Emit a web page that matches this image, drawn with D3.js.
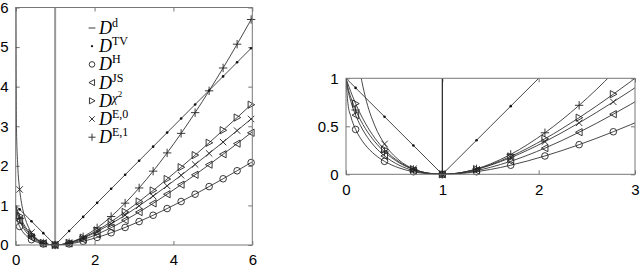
<!DOCTYPE html>
<html>
<head>
<meta charset="utf-8">
<script src="https://cdn.jsdelivr.net/npm/d3@7"></script>
<style>
  body { margin: 0; background: #fff; }
  svg { display: block; }
</style>
</head>
<body>
<svg id="chart" width="640" height="267"></svg>
<script>
// sample points along t (likelihood ratio), shared by all curves
const tGrid = [0, 0.02, 0.05, 0.1, 0.15, 0.2, 0.3, 0.4, 0.55, 0.7, 0.85, 1, 1.15, 1.355, 1.5, 1.71,
               2.065, 2.42, 2.775, 3.13, 3.485, 3.84, 4.195, 4.55, 4.905, 5.26, 5.615, 5.97, 6];
// where the markers sit
const markT = [0.1, 0.4, 0.7, 1, 1.355, 1.71, 2.065, 2.42, 2.775, 3.13, 3.485, 3.84, 4.195, 4.55,
               4.905, 5.26, 5.615, 5.97];

const valsTV  = [1, 0.98, 0.95, 0.9, 0.85, 0.8, 0.7, 0.6, 0.45, 0.3, 0.15, 0, 0.15, 0.355, 0.5, 0.71,
                 1.065, 1.42, 1.775, 2.13, 2.485, 2.84, 3.195, 3.55, 3.905, 4.26, 4.615, 4.97, 5];
const valsH   = [1, 0.7372, 0.6028, 0.4675, 0.3754, 0.3056, 0.2046, 0.1351, 0.0668, 0.0267, 0.0061, 0, 0.0052, 0.0269, 0.0505, 0.0947,
                 0.1910, 0.3087, 0.4433, 0.5916, 0.7514, 0.9208, 1.0987, 1.2839, 1.4755, 1.6731, 1.8758, 2.0833, 2.1010];
const valsJS  = [1, 0.8780, 0.7600, 0.6166, 0.5076, 0.4200, 0.2868, 0.1916, 0.0956, 0.0384, 0.0088, 0, 0.0076, 0.0388, 0.0726, 0.1358,
                 0.2726, 0.4385, 0.6265, 0.8319, 1.0515, 1.2828, 1.5239, 1.7734, 2.0301, 2.2931, 2.5616, 2.8350, 2.8583];
const valsChi = [1, 0.9416, 0.8595, 0.7364, 0.6283, 0.5333, 0.3769, 0.2571, 0.1306, 0.0529, 0.0122, 0, 0.0105, 0.0535, 0.1, 0.1860,
                 0.3701, 0.5896, 0.8346, 1.0985, 1.3769, 1.6665, 1.9650, 2.2707, 2.5824, 2.8990, 3.2197, 3.5439, 3.5714];
// first value stands for "off the top" (curve blows up at t=0)
const valsE0  = [9, 2.9320, 2.0457, 1.4026, 1.0471, 0.8094, 0.5040, 0.3163, 0.1478, 0.0567, 0.0125, 0, 0.0102, 0.0512, 0.0945, 0.1735,
                 0.3399, 0.5362, 0.7544, 0.9890, 1.2365, 1.4945, 1.7611, 2.0349, 2.3148, 2.5999, 2.8896, 3.1833, 3.2082];
const valsE1  = [1, 0.9018, 0.8002, 0.6697, 0.5654, 0.4781, 0.3388, 0.2335, 0.1212, 0.0503, 0.0119, 0, 0.0107, 0.0567, 0.1082, 0.2074,
                 0.4324, 0.7187, 1.0573, 1.4414, 1.8659, 2.3266, 2.8202, 3.3438, 3.8952, 4.4723, 5.0734, 5.6969, 5.7506];

// D^d is just the spike at t = 1
const ddT = [1, 1];
const ddV = [0, 6];

const legendSup = ['d', 'TV', 'H', 'JS', 'χ', 'E,0', 'E,1'];
const legendMarks = ['dash', 'dot', 'circle', 'triLeft', 'triRight', 'cross', 'plus'];

const xTicksLeft = [0, 2, 4, 6];
const yTicksLeft = [0, 1, 2, 3, 4, 5, 6];
const xTicksRight = [0, 1, 2, 3];
const yTicksRight = [0, 0.5, 1];

const series = [
    {values: valsTV,  mark: 'dot',      linear: true},
    {values: valsH,   mark: 'circle'},
    {values: valsJS,  mark: 'triLeft'},
    {values: valsChi, mark: 'triRight'},
    {values: valsE0,  mark: 'cross'},
    {values: valsE1,  mark: 'plus'}
];

const svg = d3.select('#chart');
const lineColor = '#333';
const frameColor = '#777';

function drawMarker(g, type, cx, cy, k = 1) {
    const m = g.append('g').attr('transform', `translate(${cx},${cy})`)
        .attr('fill', 'none').attr('stroke', '#222').attr('stroke-width', 0.9);
    if (type === 'dot') {
        m.append('circle').attr('r', 1.3 * k).attr('fill', '#111').attr('stroke', 'none');
    } else if (type === 'circle') {
        m.append('circle').attr('r', 3.3 * k);
    } else if (type === 'triLeft') {
        m.append('path').attr('d', `M${-3.6*k},0L${3*k},${-3.6*k}L${3*k},${3.6*k}Z`);
    } else if (type === 'triRight') {
        m.append('path').attr('d', `M${3.6*k},0L${-3*k},${-3.6*k}L${-3*k},${3.6*k}Z`);
    } else if (type === 'cross') {
        const s = 3.2 * k;
        m.append('path').attr('d', `M${-s},${-s}L${s},${s}M${-s},${s}L${s},${-s}`);
    } else if (type === 'plus') {
        const s = 4.2 * k;
        m.append('path').attr('d', `M${-s},0L${s},0M0,${-s}L0,${s}`);
    } else if (type === 'dash') {
        m.append('path').attr('d', `M${-4*k},0L${4*k},0`);
    }
}

function drawPanel(p) {
    const x = d3.scaleLinear().domain(p.xDomain).range([p.left, p.right]);
    const y = d3.scaleLinear().domain(p.yDomain).range([p.bottom, p.top]);
    const g = svg.append('g');

    const clipId = 'clip-' + p.name;
    svg.append('clipPath').attr('id', clipId).append('rect')
        .attr('x', p.left).attr('y', p.top)
        .attr('width', p.right - p.left).attr('height', p.bottom - p.top);

    // axes, ticks pointing inward, mirrored on top/right
    const fmt = d3.format('~g');
    const styleAxis = a => {
        a.attr('color', frameColor)
         .attr('font-family', '"Liberation Sans", Arial, sans-serif')
         .attr('font-size', 15);
        a.select('.domain').remove();
        a.selectAll('text').attr('fill', '#000');
    };
    g.append('g').attr('transform', `translate(0,${p.bottom})`)
        .call(d3.axisBottom(x).tickValues(p.xTicks).tickFormat(fmt).tickSize(-4).tickPadding(p.xPad))
        .call(styleAxis);
    g.append('g').attr('transform', `translate(0,${p.top})`)
        .call(d3.axisTop(x).tickValues(p.xTicks).tickFormat('').tickSize(-4))
        .call(styleAxis);
    g.append('g').attr('transform', `translate(${p.left},0)`)
        .call(d3.axisLeft(y).tickValues(p.yTicks).tickFormat(fmt).tickSize(-4).tickPadding(p.yPad))
        .call(styleAxis);
    g.append('g').attr('transform', `translate(${p.right},0)`)
        .call(d3.axisRight(y).tickValues(p.yTicks).tickFormat('').tickSize(-4))
        .call(styleAxis);

    const plot = g.append('g').attr('clip-path', `url(#${clipId})`);

    // D^d spike
    plot.append('path')
        .datum(ddT.map((t, i) => [t, ddV[i]]))
        .attr('d', d3.line().x(d => x(d[0])).y(d => y(d[1])))
        .attr('fill', 'none')
        .attr('stroke', p.ddColor)
        .attr('stroke-width', p.ddWidth);

    series.forEach(s => {
        const line = d3.line()
            .x(d => x(d[0])).y(d => y(d[1]))
            .curve(s.linear ? d3.curveLinear : d3.curveMonotoneX);
        plot.append('path')
            .datum(tGrid.map((t, i) => [t, s.values[i]]))
            .attr('d', line)
            .attr('fill', 'none')
            .attr('stroke', lineColor)
            .attr('stroke-width', 0.9);
    });

    // markers (only those inside the ranges)
    const mg = g.append('g');
    series.forEach(s => {
        markT.forEach(t => {
            const v = s.values[tGrid.indexOf(t)];
            if (t > p.xDomain[1] || v > p.yDomain[1]) return;
            drawMarker(mg, s.mark, x(t), y(v));
        });
    });

    // frame
    g.append('rect')
        .attr('x', p.left).attr('y', p.top)
        .attr('width', p.right - p.left).attr('height', p.bottom - p.top)
        .attr('fill', 'none').attr('stroke', frameColor).attr('stroke-width', 1);
}

drawPanel({
    name: 'left', left: 15.7, right: 252.3, top: 7.5, bottom: 245,
    xDomain: [0, 6], yDomain: [0, 6], xTicks: xTicksLeft, yTicks: yTicksLeft,
    xPad: 9.5, yPad: 7, ddColor: '#999', ddWidth: 2
});
drawPanel({
    name: 'right', left: 346, right: 635, top: 78.3, bottom: 174.3,
    xDomain: [0, 3], yDomain: [0, 1], xTicks: xTicksRight, yTicks: yTicksRight,
    xPad: 10, yPad: 7.5, ddColor: '#222', ddWidth: 1.2
});

// legend inside the left panel
const legend = svg.append('g');
legendSup.forEach((sup, i) => {
    const base = 34 + i * 18.2;
    drawMarker(legend, legendMarks[i], 92, base - 6, 0.85);
    const txt = legend.append('text')
        .attr('x', 99).attr('y', base)
        .attr('font-family', '"Liberation Serif", "DejaVu Serif", serif')
        .attr('font-size', 18).attr('fill', '#000');
    txt.append('tspan').attr('font-style', 'italic').text('D');
    if (sup === 'χ') {
        txt.append('tspan').attr('font-size', 13).attr('font-style', 'italic').attr('dy', -5).text('χ');
        txt.append('tspan').attr('font-size', 9).attr('dy', -5).text('2');
    } else {
        txt.append('tspan').attr('font-size', 12).attr('dy', -7).text(sup);
    }
});
</script>
</body>
</html>
